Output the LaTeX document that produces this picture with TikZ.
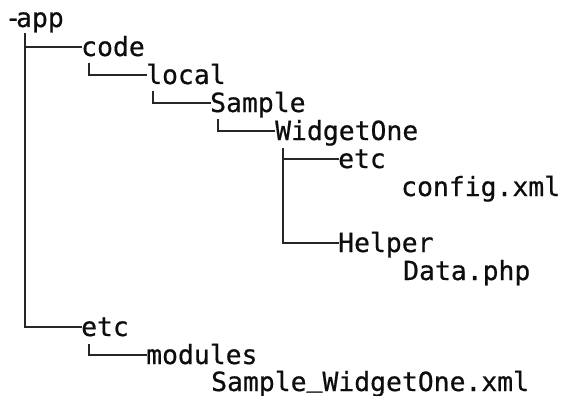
\documentclass[tikz,border=0pt]{standalone}
\usepackage{fontspec}
\newfontfamily\treefont[FakeBold=0.6]{DejaVu Sans Mono}
\usetikzlibrary{calc}
\begin{document}
\begin{tikzpicture}[x=1pt,y=-1pt,
  item/.style={anchor=base west, inner sep=0pt, text=black!95,
    font=\treefont\fontsize{26.4}{26.4}\selectfont},
  branch/.style={draw=black!85, line width=2pt}]
\useasboundingbox (0,0) rectangle (562,396);
% file tree entries (x = indent, y = baseline)
\node[item] (app)     at (5,27)    {-\kern-5pt app};
\node[item] (code)    at (81,56)   {code};
\node[item] (local)   at (146,84)  {local};
\node[item] (sample)  at (210,112) {Sample};
\node[item] (widget)  at (275,140) {WidgetOne};
\node[item] (etcA)    at (338,168) {etc};
\node[item] (config)  at (401,196) {config.xml};
\node[item] (helper)  at (338,252) {Helper};
\node[item] (data)    at (403,280) {Data.php};
\node[item] (etcB)    at (81,336)  {etc};
\node[item] (modules) at (146,364) {modules};
\node[item] (modxml)  at (211,391) {Sample\raisebox{4.5pt}{\_}WidgetOne.xml};
% tree branches
\draw[branch] ($(app.base west)+(20,6)$)    |- ($(code.base west)+(1,-9)$);
\draw[branch] ($(app.base west)+(20,6)$)    |- ($(etcB.base west)+(1,-9)$);
\draw[branch] ($(code.base west)+(8,7)$)    |- ($(local.base west)+(1,-9)$);
\draw[branch] ($(local.base west)+(7,7)$)   |- ($(sample.base west)+(1,-9)$);
\draw[branch] ($(sample.base west)+(8,7)$)  |- ($(widget.base west)+(0,-9)$);
\draw[branch] ($(widget.base west)+(8,8)$)  |- ($(etcA.base west)+(1,-9)$);
\draw[branch] ($(widget.base west)+(8,8)$)  |- ($(helper.base west)+(1,-9)$);
\draw[branch] ($(etcB.base west)+(8,8)$)    |- ($(modules.base west)+(1,-9)$);
\end{tikzpicture}
\end{document}
